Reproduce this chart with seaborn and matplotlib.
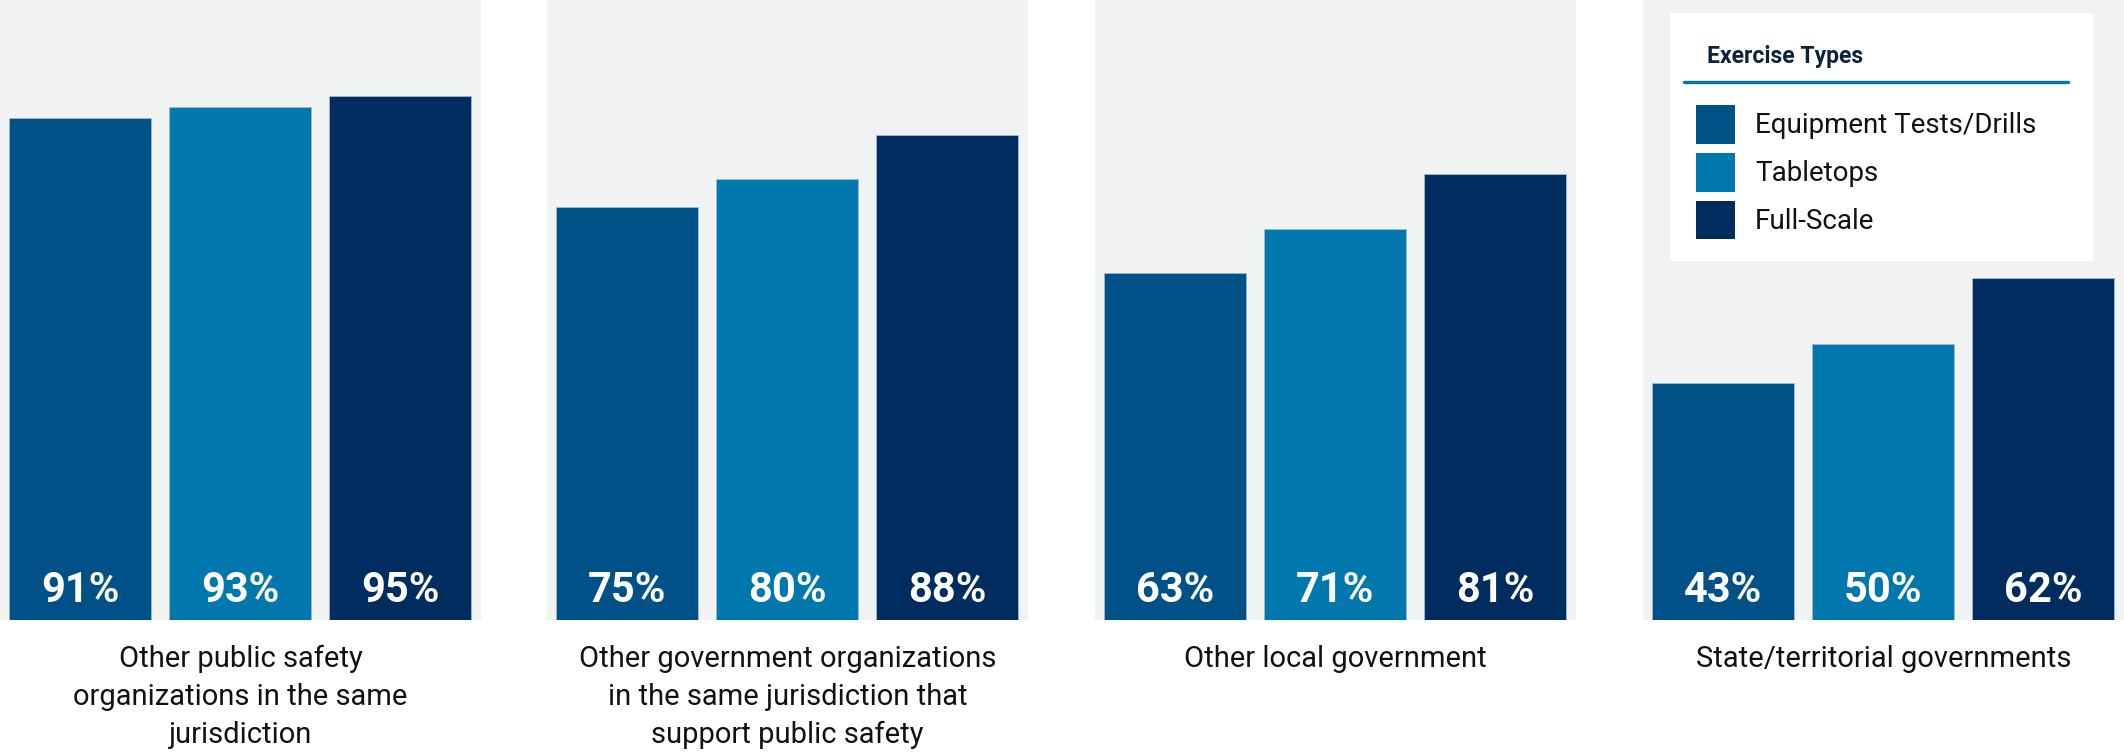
import matplotlib
matplotlib.use("Agg")
import matplotlib.pyplot as plt
from matplotlib.patches import Patch, Rectangle
from matplotlib.lines import Line2D
import seaborn as sns
import pandas as pd

# Share of agencies conducting each exercise type with partner organizations
categories = [
    "Other public safety\norganizations in the same\njurisdiction",
    "Other government organizations\nin the same jurisdiction that\nsupport public safety",
    "Other local government",
    "State/territorial governments",
]
exercise_types = ["Equipment Tests/Drills", "Tabletops", "Full-Scale"]
equipment_drills = [91, 75, 63, 43]
tabletops = [93, 80, 71, 50]
full_scale = [95, 88, 81, 62]

colors = ["#005188", "#0077AD", "#002C5F"]
panel_bg = "#F1F2F2"

rows = []
for i, cat in enumerate(categories):
    for t, series in zip(exercise_types, [equipment_drills, tabletops, full_scale]):
        rows.append({"category": cat, "type": t, "value": series[i]})
df = pd.DataFrame(rows)

sns.set_theme(style="white")
plt.rcParams["font.family"] = ["Roboto", "DejaVu Sans"]

W, H = 2124, 754
fig = plt.figure(figsize=(W / 100, H / 100), dpi=100)
fig.patch.set_facecolor("white")

panel_left = [0, 547, 1095, 1643]
panel_w = 481
bar_bottom = 620

axes = []
for i, cat in enumerate(categories):
    x0 = panel_left[i]
    ax = fig.add_axes([x0 / W, (H - bar_bottom) / H, panel_w / W, bar_bottom / H])
    sub = df[df["category"] == cat]
    sns.barplot(data=sub, x="type", y="value", hue="type", order=exercise_types,
                hue_order=exercise_types, palette=colors, saturation=1,
                width=0.8875, legend=False, ax=ax,
                edgecolor="#9CBBD3", linewidth=0.6)
    ax.set_facecolor(panel_bg)
    ax.set_xlim(-0.5, 2.505)
    ax.set_ylim(0, 112.5)
    for s in ax.spines.values():
        s.set_visible(False)
    ax.set_xticks([])
    ax.set_yticks([])
    ax.set_xlabel("")
    ax.set_ylabel("")
    # value labels sit at the foot of each bar
    for p, v in zip(ax.patches, sub["value"]):
        ax.text(p.get_x() + p.get_width() / 2, 0.048, f"{v}%",
                transform=ax.get_xaxis_transform(), ha="center", va="center",
                color="white", fontsize=30, fontweight="bold")
    fig.text((x0 + panel_w / 2) / W, 1 - 645 / H, cat, ha="center", va="top",
             fontsize=21, color="#111111", linespacing=1.45)
    axes.append(ax)

# Legend panel inside the last axes
ax4 = axes[-1]
box = Rectangle(((1670) / W, 1 - 261 / H), (2093 - 1670) / W, (261 - 13) / H,
                transform=fig.transFigure, facecolor="white", edgecolor="none",
                zorder=4)
ax4.add_patch(box)
box.set_clip_on(False)
fig.text(1707 / W, 1 - 57 / H, "Exercise Types", ha="left", va="center",
         fontsize=16.5, fontweight="bold", color="#0C2340", zorder=6)
fig.add_artist(Line2D([1684 / W, 2068 / W], [1 - 82 / H, 1 - 82 / H],
                      color="#0077AD", linewidth=2.4, zorder=6))
handles = [Patch(facecolor=c, edgecolor="none") for c in colors]
leg = ax4.legend(handles, exercise_types, loc="upper left",
                 bbox_to_anchor=(1696 / W, 1 - 105 / H),
                 bbox_transform=fig.transFigure, frameon=False,
                 borderpad=0, borderaxespad=0, handlelength=1.40,
                 handleheight=1.777, handletextpad=0.72, labelspacing=0.32,
                 fontsize=20)
leg.set_zorder(6)
for t in leg.get_texts():
    t.set_color("#111111")

fig.savefig("out.png", dpi=100, facecolor="white")
